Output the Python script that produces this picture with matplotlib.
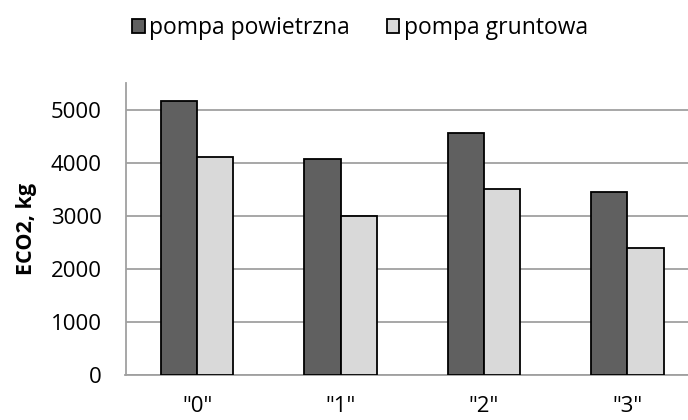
import matplotlib
matplotlib.use("Agg")
import matplotlib.pyplot as plt
import numpy as np

categories = ['"0"', '"1"', '"2"', '"3"']
series_names = ["pompa powietrzna", "pompa gruntowa"]
powietrzna = [5160, 4060, 4560, 3450]
gruntowa = [4100, 3000, 3500, 2400]
yticks = [0, 1000, 2000, 3000, 4000, 5000]

plt.rcParams['font.family'] = ['Open Sans', 'DejaVu Sans']

W, H = 688, 420
fig = plt.figure(figsize=(W / 100, H / 100), dpi=100)
left, right, bottom, top = 125.5, 699.1, 375, 83
ax = fig.add_axes([left / W, (H - bottom) / H, (right - left) / W, (bottom - top) / H])

x = np.arange(len(categories))
bw = 0.253
b1 = ax.bar(x - bw / 2, powietrzna, bw, color="#606060", edgecolor="black", linewidth=1.3, zorder=3)
b2 = ax.bar(x + bw / 2, gruntowa, bw, color="#d9d9d9", edgecolor="black", linewidth=1.3, zorder=3)

ax.set_xlim(-0.5, len(categories) - 0.5)
ax.set_ylim(0, 5500)
ax.set_yticks(yticks)
ax.set_xticks(x)
ax.set_xticklabels(categories)
ax.tick_params(axis="both", length=0, labelsize=16, colors="black")
ax.tick_params(axis="y", pad=17)
ax.tick_params(axis="x", pad=15)
ax.grid(axis="y", color="#a0a0a0", linewidth=1.3, zorder=0)
for s in ["top", "right"]:
    ax.spines[s].set_visible(False)
for s in ["left", "bottom"]:
    ax.spines[s].set_color("#a0a0a0")
    ax.spines[s].set_linewidth(1.3)

ax.set_ylabel("ECO2, kg", fontsize=15.5, fontweight="bold")
ax.yaxis.set_label_coords((37 - left) / (right - left), 0.5)

fig.legend([b1, b2], series_names, loc="center", bbox_to_anchor=(360 / W, 1 - 28 / H),
           ncol=2, frameon=False, fontsize=16.5, handlelength=0.55, handleheight=0.55,
           handletextpad=0.2, columnspacing=1.6)

fig.savefig("out.png", dpi=100)
